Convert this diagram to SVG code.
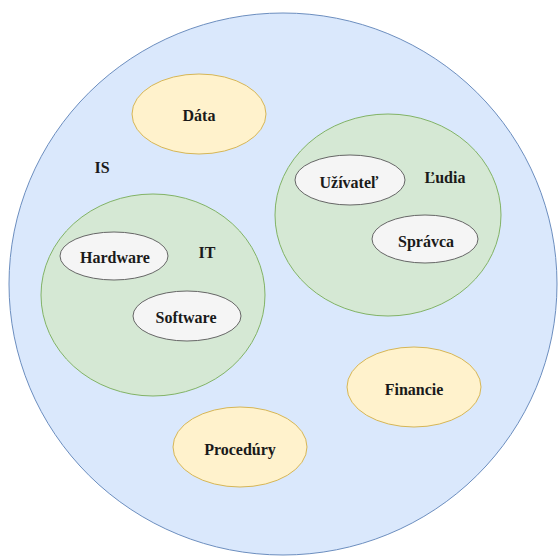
<svg xmlns="http://www.w3.org/2000/svg" width="559" height="556" viewBox="0 0 559 556">
<style>
text{font-family:"Liberation Serif","Times New Roman",serif;font-weight:bold;font-size:16px;fill:#1a1a1a;text-anchor:middle;dominant-baseline:central}
.blue{fill:#dae8fc;stroke:#6c8ebf;stroke-width:1}
.green{fill:#d5e8d4;stroke:#82b366;stroke-width:1}
.yellow{fill:#fff2cc;stroke:#d6b656;stroke-width:1}
.gray{fill:#f5f5f5;stroke:#666666;stroke-width:1}
</style>
<rect width="559" height="556" fill="#ffffff"/>
<g id="IS">
<ellipse class="blue" cx="283" cy="284" rx="274" ry="271"/>
<text x="102" y="167">IS</text>
</g>
<g id="Data">
<ellipse class="yellow" cx="199" cy="114" rx="67" ry="40"/>
<text x="199" y="115">Dáta</text>
</g>
<g id="IT">
<ellipse class="green" cx="153" cy="295" rx="112" ry="101"/>
<text x="207" y="252">IT</text>
</g>
<g id="Hardware">
<ellipse class="gray" cx="114" cy="256" rx="54" ry="24"/>
<text x="115" y="257">Hardware</text>
</g>
<g id="Software">
<ellipse class="gray" cx="187" cy="316" rx="54" ry="25"/>
<text x="186" y="317">Software</text>
</g>
<g id="Ludia">
<ellipse class="green" cx="388" cy="215" rx="113" ry="101"/>
<text x="445" y="177">Ľudia</text>
</g>
<g id="Uzivatel">
<ellipse class="gray" cx="350" cy="180" rx="55" ry="25"/>
<text x="349" y="182">Užívateľ</text>
</g>
<g id="Spravca">
<ellipse class="gray" cx="425" cy="239" rx="53" ry="24"/>
<text x="426" y="241">Správca</text>
</g>
<g id="Financie">
<ellipse class="yellow" cx="414" cy="387" rx="67" ry="40"/>
<text x="414" y="389">Financie</text>
</g>
<g id="Procedury">
<ellipse class="yellow" cx="240" cy="447" rx="67" ry="40"/>
<text x="240" y="449">Procedúry</text>
</g>
<g id="connectors"/>
</svg>
